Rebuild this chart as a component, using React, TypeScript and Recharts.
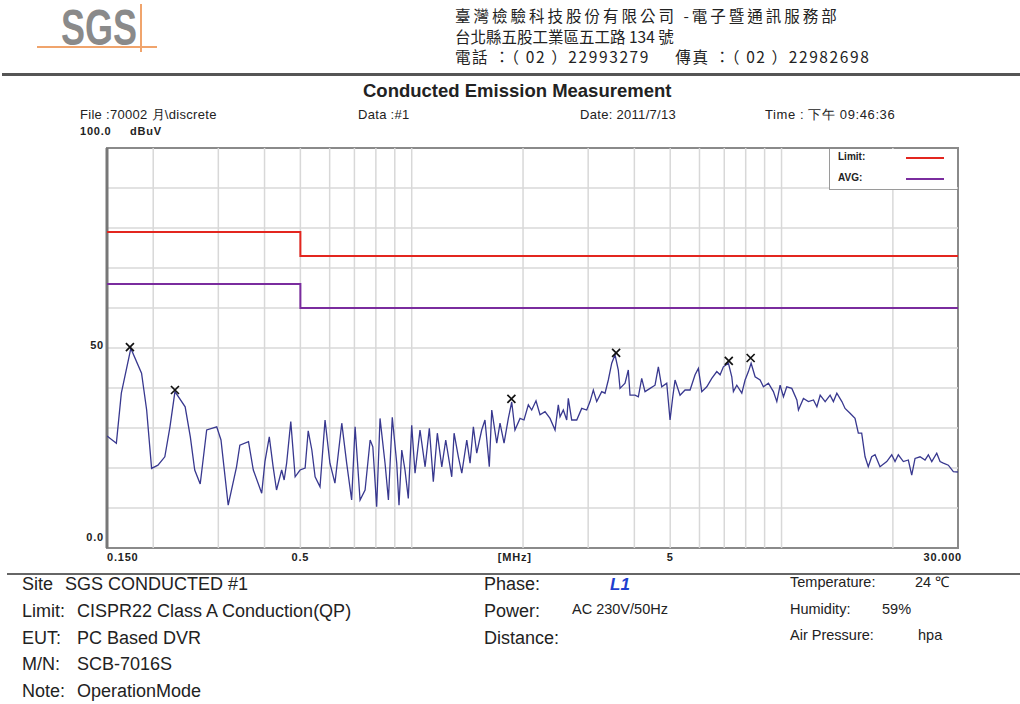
import {
  ComposedChart,
  Line,
  Scatter,
  XAxis,
  YAxis,
  ReferenceLine,
  ReferenceArea,
  Legend
} from "recharts"

// trace (MHz / dBuV)
const traceFreq = [
  0.150, 0.159, 0.164, 0.174, 0.186, 0.192, 0.198, 0.206, 0.215, 0.222,
  0.229, 0.244, 0.252, 0.259, 0.268, 0.279, 0.297, 0.305, 0.319, 0.336,
  0.343, 0.362, 0.373, 0.393, 0.401, 0.412, 0.422, 0.431, 0.445, 0.452,
  0.459, 0.471, 0.484, 0.499, 0.515, 0.525, 0.537, 0.548, 0.565, 0.583,
  0.601, 0.620, 0.647, 0.667, 0.688, 0.703, 0.725, 0.748, 0.772, 0.785,
  0.804, 0.821, 0.847, 0.865, 0.886, 0.911, 0.924, 0.940, 0.959, 0.979,
  1.000, 1.021, 1.053, 1.087, 1.116, 1.144, 1.173, 1.206, 1.236, 1.283,
  1.302, 1.337, 1.366, 1.409, 1.438, 1.468, 1.499, 1.546, 1.578, 1.621,
  1.646, 1.698, 1.733, 1.777, 1.825, 1.864, 1.902, 1.963, 2.012, 2.067,
  2.111, 2.168, 2.223, 2.293, 2.366, 2.441, 2.491, 2.518, 2.570, 2.625,
  2.651, 2.708, 2.794, 2.882, 2.973, 3.035, 3.098, 3.164, 3.264, 3.332,
  3.401, 3.474, 3.546, 3.619, 3.658, 3.774, 3.852, 3.893, 4.016, 4.100,
  4.187, 4.274, 4.410, 4.549, 4.644, 4.743, 4.893, 4.995, 5.080, 5.153,
  5.316, 5.484, 5.658, 5.837, 5.958, 6.086, 6.278, 6.477, 6.682, 6.821,
  6.962, 7.183, 7.336, 7.410, 7.568, 7.808, 7.970, 8.136, 8.274, 8.482,
  8.750, 8.932, 9.215, 9.506, 9.710, 9.911, 10.12, 10.33, 10.66, 11.00,
  11.11, 11.46, 11.82, 12.20, 12.46, 12.72, 13.12, 13.53, 13.81, 14.11,
  14.56, 14.85, 15.32, 15.80, 16.13, 16.47, 16.82, 17.16, 17.53, 17.90,
  18.46, 19.25, 19.86, 20.27, 20.69, 21.35, 22.02, 22.49, 22.96, 23.69,
  24.43, 24.94, 25.48, 26.28, 26.83, 27.38, 28.25, 29.14, 30.00
]
const traceLevel = [
  28.0, 26.2, 38.7, 49.9, 43.7, 34.5, 19.9, 20.7, 22.8, 30.3,
  39.1, 35.3, 27.8, 19.5, 16.0, 29.5, 30.3, 27.0, 10.7, 20.3,
  25.7, 26.6, 19.5, 13.7, 21.6, 27.8, 20.3, 14.5, 19.5, 17.0,
  21.2, 31.6, 17.8, 19.5, 20.0, 29.3, 24.5, 17.8, 15.3, 32.0,
  21.2, 16.2, 31.2, 21.2, 12.0, 30.3, 12.0, 14.5, 27.0, 25.3,
  10.3, 32.4, 21.2, 12.0, 32.7, 21.2, 10.7, 24.5, 19.5, 12.4,
  30.7, 18.7, 29.5, 20.3, 29.9, 16.6, 28.7, 20.3, 27.0, 17.8,
  28.7, 22.8, 18.7, 27.0, 21.2, 30.3, 23.7, 29.5, 32.0, 20.3,
  34.5, 26.2, 31.2, 26.2, 32.4, 36.5, 29.5, 32.4, 32.0, 35.8,
  34.5, 36.8, 33.3, 34.1, 32.4, 29.5, 35.8, 32.8, 34.5, 32.0,
  37.4, 32.0, 32.0, 34.9, 34.5, 36.6, 39.5, 36.6, 39.1, 38.7,
  42.0, 46.2, 48.3, 44.5, 39.9, 41.2, 44.5, 38.2, 38.2, 37.8,
  42.4, 39.1, 39.9, 40.7, 45.3, 40.3, 41.2, 32.0, 37.8, 42.0,
  38.2, 39.5, 39.5, 43.3, 44.9, 39.1, 40.3, 42.4, 44.1, 43.3,
  45.3, 46.2, 42.8, 39.1, 40.7, 38.7, 42.0, 44.1, 46.2, 42.8,
  42.0, 40.3, 41.2, 39.1, 36.6, 40.7, 37.8, 40.3, 39.9, 37.0,
  34.5, 37.4, 36.6, 37.0, 35.3, 38.2, 36.6, 38.2, 36.6, 38.7,
  36.6, 34.9, 33.7, 32.4, 28.7, 28.7, 22.8, 20.3, 22.8, 23.3,
  20.3, 21.6, 23.3, 21.6, 23.3, 21.6, 22.0, 18.2, 22.4, 22.8,
  22.0, 23.3, 21.6, 23.7, 21.6, 21.2, 20.7, 19.1, 19.0
]

const peakFreq = [0.173, 0.229, 1.86, 3.57, 7.20, 8.25]
const peakLevel = [50.2, 39.5, 37.3, 48.8, 46.8, 47.5]

const limitFreq = [0.15, 0.5, 0.5, 30]
const qpLimit = [79, 79, 73, 73]
const avgLimit = [66, 66, 60, 60]

const xTicks = [0.15, 0.5, 1.9, 5, 30]
const xTickLabels = ["0.150", "0.5", "[MHz]", "5", "30.000"]
const yTicks = [0, 50, 100]
const yTickLabels = ["0.0", "50", "100.0"]

const gridFreq = [0.2, 0.3, 0.4, 0.5, 0.6, 0.7, 0.8, 0.9, 1, 2, 3, 4, 5, 6, 7, 8, 9, 10, 20]
const gridLevel = [10, 20, 30, 40, 50, 60, 70, 80, 90]

const legendNames = ["Limit", "AVG"]

const trace = traceFreq.map((f, i) => ({ f, v: traceLevel[i] }))
const peaks = peakFreq.map((f, i) => ({ f, v: peakLevel[i] }))
const qpData = limitFreq.map((f, i) => ({ f, v: qpLimit[i] }))
const avgData = limitFreq.map((f, i) => ({ f, v: avgLimit[i] }))

const FONT = "'Liberation Sans', Arial, sans-serif"
const CJK = "'Noto Sans CJK TC', 'Liberation Sans', sans-serif"

function T({ x, y, size, children, bold, italic, color, font, spacing }: any) {
  return (
    <div style={{
      position: 'absolute', left: x, top: y - size * 0.55, fontSize: size,
      lineHeight: `${size * 1.1}px`, whiteSpace: 'pre', fontFamily: font || FONT,
      fontWeight: bold ? 'bold' : 'normal', fontStyle: italic ? 'italic' : 'normal',
      color: color || '#222', letterSpacing: spacing || 0
    }}>{children}</div>
  )
}

function XTick({ x, y, payload }: any) {
  const i = xTicks.indexOf(payload.value)
  const last = i === xTicks.length - 1
  const anchor = i === 0 ? 'start' : last ? 'end' : 'middle'
  return (
    <text x={x + (last ? 4 : 0)} y={y + 5} textAnchor={anchor} fontSize={11}
      letterSpacing={0.8} fontWeight="bold" fill="#222" fontFamily={FONT}>{xTickLabels[i]}</text>
  )
}

function YTick({ x, y, payload }: any) {
  const i = yTicks.indexOf(payload.value)
  if (payload.value === 100) {
    return (
      <g fontSize={11} fontWeight="bold" fill="#222" fontFamily={FONT} letterSpacing={0.8}>
        <text x={x - 19} y={y - 13}>{yTickLabels[i]}</text>
        <text x={x + 31} y={y - 13}>dBuV</text>
      </g>
    )
  }
  const dy = payload.value === 0 ? -7 : 1
  return (
    <text x={x + 5} y={y + dy} textAnchor="end" fontSize={11} letterSpacing={0.8} fontWeight="bold"
      fill="#222" fontFamily={FONT}>{yTickLabels[i]}</text>
  )
}

function LegendBox({ payload }: any) {
  const items = legendNames
    .map(n => (payload || []).find((p: any) => p.value === n))
    .filter(Boolean)
  return (
    <div style={{
      position: 'relative', width: 128, height: 41, borderLeft: '1.5px solid #9a9a9a',
      borderBottom: '1.5px solid #9a9a9a', background: '#fff', fontFamily: FONT,
      fontSize: 10, fontWeight: 'bold', color: '#222', boxSizing: 'border-box'
    }}>
      {items.map((p: any, k: number) => (
        <div key={k}>
          <span style={{ position: 'absolute', left: 8, top: 2 + k * 21, lineHeight: '12px' }}>{p.value}:</span>
          <span style={{
            position: 'absolute', left: 76, top: 8 + k * 21, width: 38, height: 2, background: p.color
          }} />
        </div>
      ))}
    </div>
  )
}

function Cross({ cx, cy }: any) {
  return (
    <path d={`M${cx - 4},${cy - 4}L${cx + 4},${cy + 4}M${cx + 4},${cy - 4}L${cx - 4},${cy + 4}`}
      stroke="#111" strokeWidth={1.7} />
  )
}

export default function App() {
  return (
    <div style={{ position: 'absolute', left: 0, top: 0, width: 1020, height: 704, background: '#fff', overflow: 'hidden' }}>
      {/* logo */}
      <div style={{
        position: 'absolute', left: 61, top: 0, fontFamily: FONT, fontWeight: 'bold', fontSize: 50,
        color: '#8a8a8a', transform: 'scaleX(0.72)', transformOrigin: 'left top', lineHeight: '56px'
      }}>SGS</div>
      <div style={{ position: 'absolute', left: 37, top: 46, width: 120, height: 2, background: '#f0a46c' }} />
      <div style={{ position: 'absolute', left: 140, top: 4, width: 2, height: 48, background: '#f0a46c' }} />

      <T x={455} y={16} size={15.5} font={CJK} spacing={3}>臺灣檢驗科技股份有限公司 -電子暨通訊服務部</T>
      <T x={455} y={37} size={15.5} font={CJK}>台北縣五股工業區五工路 134 號</T>
      <T x={455} y={57} size={15.5} font={CJK} spacing={1.6}>電話 ：（ 02 ）22993279     傳真 ：（ 02 ）22982698</T>
      <div style={{ position: 'absolute', left: 2, top: 73, width: 1018, height: 3, background: '#555' }} />

      <T x={363} y={91} size={18.5} bold>Conducted Emission Measurement</T>
      <T x={80} y={115} size={13} spacing={0.3}>File :70002 月\discrete</T>
      <T x={358} y={115} size={13} spacing={0.3}>Data :#1</T>
      <T x={580} y={115} size={13} spacing={0.3}>Date: 2011/7/13</T>
      <T x={765} y={115} size={13} spacing={0.6}>Time : 下午 09:46:36</T>

      <div style={{ position: 'absolute', left: 0, top: 0 }}>
        <ComposedChart width={1020} height={704} margin={{ top: 148, right: 62, bottom: 136, left: 87 }}>
          <XAxis dataKey="f" type="number" scale="log" domain={[0.15, 30]} allowDataOverflow
            ticks={xTicks} interval={0} height={20} axisLine={false} tickLine={false} tick={<XTick />} />
          <YAxis type="number" domain={[0, 100]} allowDataOverflow ticks={yTicks} interval={0}
            width={20} axisLine={false} tickLine={false} tick={<YTick />} />
          {gridFreq.map(f => (
            <ReferenceLine key={'gx' + f} x={f} stroke="#d8d8d8" strokeWidth={1.5} />
          ))}
          {gridLevel.map(v => (
            <ReferenceLine key={'gy' + v} y={v} stroke="#d8d8d8" strokeWidth={1.5} />
          ))}
          <ReferenceArea x1={0.15} x2={30} y1={0} y2={100} fill="none" fillOpacity={0}
            stroke="#8a8a8a" strokeWidth={2} />
          <ReferenceLine x={0.15} stroke="#777" strokeWidth={3} />
          <Line data={qpData} dataKey="v" name="Limit" stroke="#e3261f" strokeWidth={2}
            dot={false} type="linear" isAnimationActive={false} />
          <Line data={avgData} dataKey="v" name="AVG" stroke="#7a2c9e" strokeWidth={2}
            dot={false} type="linear" isAnimationActive={false} />
          <Line data={trace} dataKey="v" name="L1" stroke="#38388f" strokeWidth={1.3}
            dot={false} type="linear" legendType="none" isAnimationActive={false} />
          <Scatter data={peaks} dataKey="v" name="peaks" shape={<Cross />} legendType="none"
            isAnimationActive={false} />
          <Legend layout="horizontal" verticalAlign="middle" align="center"
            wrapperStyle={{ position: 'absolute', left: 829, top: 149, width: 128, height: 41 }}
            content={(p: any) => <LegendBox payload={p.payload} />} />
        </ComposedChart>
      </div>

      <div style={{ position: 'absolute', left: 7, top: 573, width: 1013, height: 2, background: '#666' }} />

      <T x={22} y={585} size={18}>Site</T>
      <T x={65} y={585} size={18}>SGS CONDUCTED #1</T>
      <T x={22} y={612} size={18}>Limit:</T>
      <T x={77} y={612} size={18}>CISPR22 Class A Conduction(QP)</T>
      <T x={22} y={639} size={18}>EUT:</T>
      <T x={77} y={639} size={18}>PC Based DVR</T>
      <T x={22} y={665} size={18}>M/N:</T>
      <T x={77} y={665} size={18}>SCB-7016S</T>
      <T x={22} y={692} size={18}>Note:</T>
      <T x={77} y={692} size={18}>OperationMode</T>

      <T x={484} y={585} size={18}>Phase:</T>
      <T x={610} y={585} size={17} bold italic color="#1f3fcf">L1</T>
      <T x={484} y={612} size={18}>Power:</T>
      <T x={572} y={610} size={14.5}>AC 230V/50Hz</T>
      <T x={484} y={639} size={18}>Distance:</T>

      <T x={790} y={583} size={14.5}>Temperature:</T>
      <T x={915} y={583} size={14.5}>24 ℃</T>
      <T x={790} y={610} size={14.5}>Humidity:</T>
      <T x={882} y={610} size={14.5}>59%</T>
      <T x={790} y={636} size={14.5}>Air Pressure:</T>
      <T x={918} y={636} size={14.5}>hpa</T>
    </div>
  )
}
